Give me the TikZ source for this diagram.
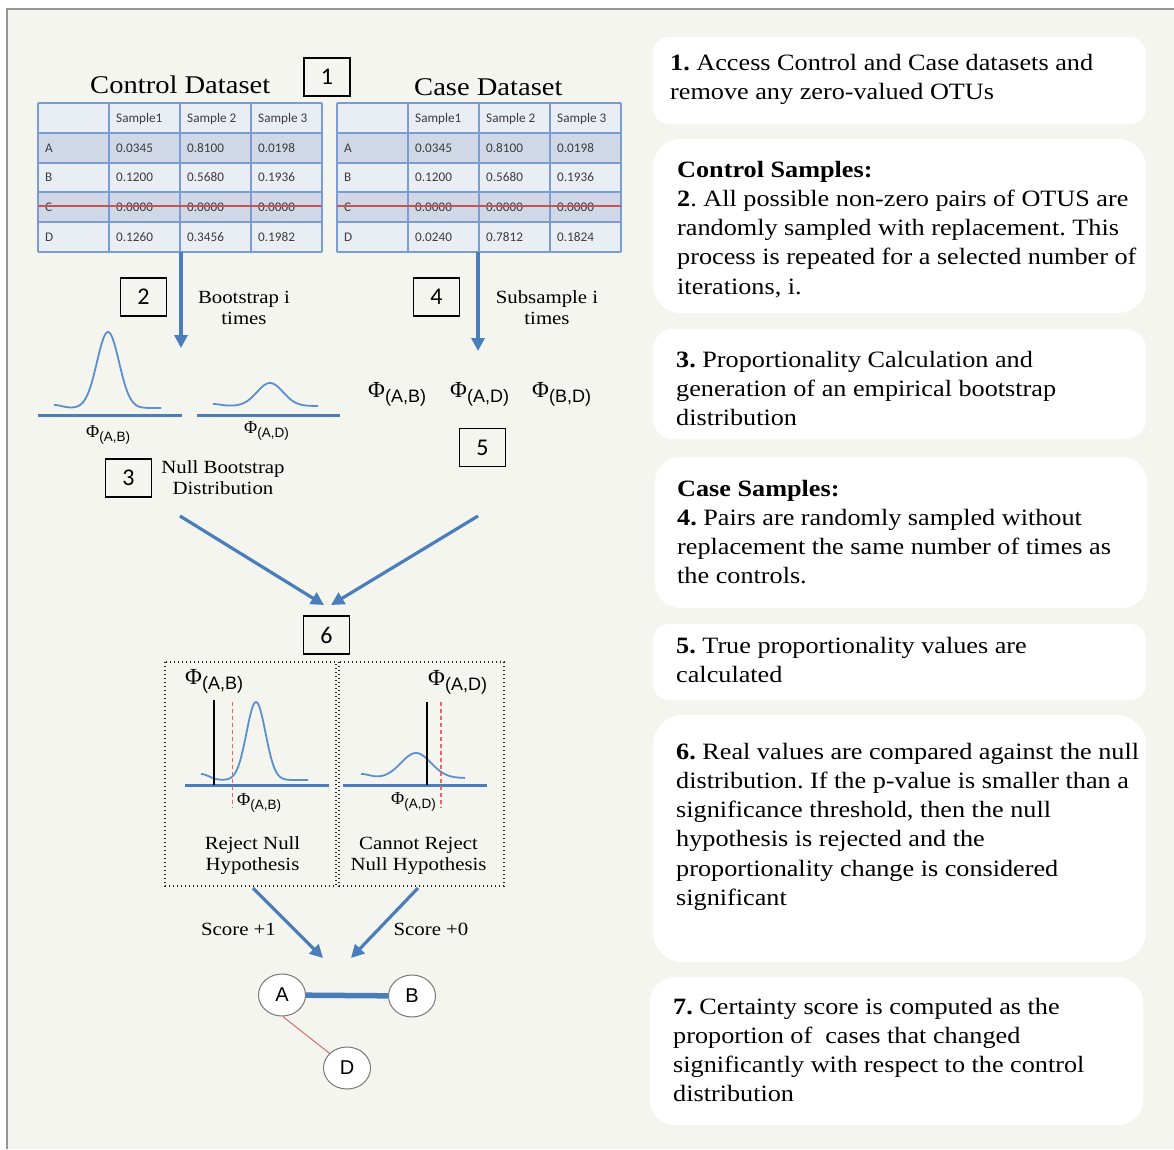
\documentclass[tikz,border=0pt]{standalone}
\usepackage{fontspec}
\setmainfont{Liberation Serif}[FakeStretch=1.12]
\newfontfamily\phifont{Liberation Serif}
\newfontfamily\subfont{Liberation Sans}
\newfontfamily\tabfont{Carlito}
\usetikzlibrary{arrows.meta,shapes.geometric}
\frenchspacing
\definecolor{bgc}{RGB}{245,245,239}
\definecolor{borderc}{RGB}{150,150,150}
\definecolor{blu}{RGB}{74,126,187}
\definecolor{curvec}{RGB}{91,143,208}
\definecolor{rowlight}{RGB}{233,237,244}
\definecolor{rowdark}{RGB}{208,216,232}
\definecolor{gridc}{RGB}{122,155,212}
\definecolor{strikec}{RGB}{205,80,80}
\definecolor{tabgray}{RGB}{60,60,60}
\definecolor{reddash}{RGB}{222,105,105}
\definecolor{ellc}{RGB}{120,120,120}
\definecolor{adred}{RGB}{212,110,110}
\newcommand\philabel[4]{{\phifont\fontsize{#1}{#1}\selectfont Φ}\raisebox{-#3pt}{\subfont\fontsize{#2}{#2}\selectfont(#4)}}
\newcommand\bigphi[1]{\philabel{23}{18}{5}{#1}}
\newcommand\smallphi[1]{\philabel{18}{13.5}{4}{#1}}
\newcommand\lblfont{\fontsize{18.6}{21.5}\selectfont}
\newcommand\boxfont{\fontsize{23.4}{29.3}\selectfont}
\newcommand\titlefont{\fontsize{25.5}{28}\selectfont}
\newcommand\tabrow[7]{%
  \node[tabtxt] (#2a) at (#1+7,#3) {#4};
  \node[tabtxt] (#2b) at (#1+78,#3) {#5};
  \node[tabtxt] (#2c) at (#1+149,#3) {#6};
  \node[tabtxt] (#2d) at (#1+220,#3) {#7};}
\newcommand\mytable[5]{%
  \fill[rowlight] (#1,103) rectangle ++(284,149);
  \fill[rowdark] (#1,133) rectangle ++(284,30);
  \fill[rowdark] (#1,192) rectangle ++(284,30);
  \foreach \k in {0,...,4} \draw[gridline] (#1+71*\k,103) -- ++(0,149);
  \foreach \yy in {103,133,163,192,222,252} \draw[gridline] (#1,\yy) -- ++(284,0);
  \tabrow{#1}{#2h}{118}{}{Sample1}{Sample 2}{Sample 3}
  \tabrow{#1}{#2A}{148}{A}{0.0345}{0.8100}{0.0198}
  \tabrow{#1}{#2B}{177.5}{B}{0.1200}{0.5680}{0.1936}
  \tabrow{#1}{#2C}{207}{C}{0.0000}{0.0000}{0.0000}
  \tabrow{#1}{#2D}{237}{D}{#3}{#4}{#5}
  \draw[strike] (#1,206) -- ++(284,0);}
\tikzset{
  tabtxt/.style={anchor=west,inner sep=0pt,font=\tabfont\fontsize{13.2}{14}\selectfont,text=tabgray,text height=8.5pt,text depth=0pt},
  gridline/.style={draw=gridc,line width=1.2pt},
  strike/.style={draw=strikec,line width=1.6pt},
  bluearrow/.style={draw=blu,line width=3.2pt,-{Triangle[length=13pt,width=13pt]}},
  numbox/.style={draw=black,line width=1.3pt,minimum width=46pt,minimum height=38pt,inner sep=0pt,font=\tabfont\fontsize{24}{24}\selectfont},
  curve/.style={draw=curvec,line width=1.8pt},
  baseln/.style={draw=blu,line width=3pt},
  lbl/.style={anchor=base,inner sep=0pt,font=\lblfont},
  philbl/.style={anchor=base west,inner sep=0pt},
  boxtxt/.style={anchor=base west,inner sep=0pt,font=\boxfont},
  whitebox/.style={fill=white},
  dotbox/.style={draw=black!85,line width=1.2pt,dash pattern=on 1.2pt off 2.8pt},
  reddashed/.style={draw=reddash,line width=1.3pt,dash pattern=on 4pt off 3pt},
  blackline/.style={draw=black,line width=2pt},
  gnode/.style={ellipse,draw=ellc,line width=1pt,fill=white,minimum width=47pt,minimum height=42pt,inner sep=0pt,font=\subfont\fontsize{20}{20}\selectfont},
}
\begin{document}
\begin{tikzpicture}[x=1pt,y=-1pt]
\useasboundingbox (0,0) rectangle (1174,1149);
\fill[white] (0,0) rectangle (1174,1149);
\fill[bgc] (6,8) rectangle (1174,1149);
\draw[borderc,line width=1.5pt] (6.75,1149) -- (6.75,8.75) -- (1174,8.75);

% titles
\node[anchor=base west,inner sep=0pt,font=\titlefont] (ctitle) at (90,93) {Control Dataset};
\node[anchor=base west,inner sep=0pt,font=\titlefont] (stitle) at (414,95) {Case Dataset};

% tables
\mytable{38}{ct}{0.1260}{0.3456}{0.1982}
\mytable{337}{cs}{0.0240}{0.7812}{0.1824}

% number boxes
\node[numbox] (n1) at (327,77) {1};
\node[numbox] (n2) at (143.5,297) {2};
\node[numbox] (n3) at (128.5,478) {3};
\node[numbox] (n4) at (436.5,297) {4};
\node[numbox] (n5) at (482.5,447.5) {5};
\node[numbox] (n6) at (326.5,635) {6};

% arrows from tables
\coordinate (a2s) at (181,252);
\coordinate (a2e) at (181,348);
\coordinate (a4s) at (478,252);
\coordinate (a4e) at (478,351);
\draw[bluearrow] (a2s) -- (a2e);
\draw[bluearrow] (a4s) -- (a4e);

\node[lbl] (boot) at (244,303) {\parbox[t]{150pt}{\centering Bootstrap i\\times}};
\node[lbl] (subs) at (547,303) {\parbox[t]{150pt}{\centering Subsample i\\times}};

% null bootstrap curves
\draw[baseln] (38,415) -- (182,415);
\draw[baseln] (197,415) -- (340,415);
\draw[curve] plot[domain=54:161,samples=90,smooth] (\x,{408-76*exp(-0.5*((\x-108)/11)^2)-3*exp(-0.5*((\x-54)/8)^2)});
\draw[curve] plot[domain=213:318,samples=90,smooth] (\x,{406-23*exp(-0.5*((\x-270)/13)^2)-2*exp(-0.5*((\x-213)/8)^2)});
\node[philbl] (p1) at (86,437) {\smallphi{A,B}};
\node[philbl] (p2) at (244,433) {\smallphi{A,D}};

\node[lbl] (nullb) at (223,473) {\parbox[t]{150pt}{\centering Null Bootstrap\\Distribution}};

% case phis
\node[philbl] (q1) at (368,397) {\bigphi{A,B}};
\node[philbl] (q2) at (450,397) {\bigphi{A,D}};
\node[philbl] (q3) at (532,397) {\bigphi{B,D}};

% converging arrows
\coordinate (c1s) at (180,516);
\coordinate (c1e) at (324,605);
\coordinate (c2s) at (478,516);
\coordinate (c2e) at (331,605);
\draw[bluearrow] (c1s) -- (c1e);
\draw[bluearrow] (c2s) -- (c2e);

% step 6 panels
\draw[dotbox] (165,662) rectangle (336,886);
\draw[dotbox] (339,662) rectangle (504,886);
\node[philbl] (r1) at (185,684) {\bigphi{A,B}};
\node[philbl] (r2) at (428,685) {\bigphi{A,D}};
\draw[baseln] (185,785) -- (329,785);
\draw[baseln] (343,785) -- (487,785);
\draw[curve] plot[domain=201:308,samples=100,smooth] (\x,{780-78*exp(-0.5*((\x-256)/9.5)^2)-6*exp(-0.5*((\x-201)/8)^2)});
\draw[curve] plot[domain=361:465,samples=100,smooth] (\x,{778-25*exp(-0.5*((\x-416)/15)^2)-4*exp(-0.5*((\x-361)/9)^2)});
\draw[blackline] (214,700) -- (214,785);
\draw[blackline] (427,702) -- (427,785);
\draw[reddashed] (232.5,702) -- (232.5,808);
\draw[reddashed] (441,702) -- (441,808);
\node[philbl] (s1) at (237,805) {\smallphi{A,B}};
\node[philbl] (s2) at (391,804) {\smallphi{A,D}};
\node[lbl] (rej) at (252.5,849) {\parbox[t]{150pt}{\centering Reject Null\\Hypothesis}};
\node[lbl] (crej) at (418.5,849) {\parbox[t]{160pt}{\centering Cannot Reject\\Null Hypothesis}};

% score arrows
\coordinate (d1s) at (253,888);
\coordinate (d1e) at (323,958);
\coordinate (d2s) at (418,888);
\coordinate (d2e) at (351,958);
\draw[bluearrow] (d1s) -- (d1e);
\draw[bluearrow] (d2s) -- (d2e);
\node[lbl] (sc1) at (238.5,935) {Score +1};
\node[lbl] (sc0) at (431,935) {Score +0};

% graph
\node[gnode] (A) at (282,995) {A};
\node[gnode] (B) at (412,996) {B};
\node[gnode] (D) at (347,1068) {D};
\draw[blu,line width=5.5pt] (A) -- (B);
\draw[adred,line width=1pt] (A.-88) -- (D.140);

% right text boxes
\fill[whitebox,rounded corners=16pt] (653,37) rectangle (1146,124);
\fill[whitebox,rounded corners=28pt] (653,139) rectangle (1146,313);
\fill[whitebox,rounded corners=20pt] (653,329) rectangle (1146,439);
\fill[whitebox,rounded corners=25pt] (655,457) rectangle (1147,608);
\fill[whitebox,rounded corners=16pt] (653,624) rectangle (1146,700);
\fill[whitebox,rounded corners=30pt] (653,715) rectangle (1146,962);
\fill[whitebox,rounded corners=25pt] (650,977) rectangle (1143,1125);

\node[boxtxt] (t1) at (670,70) {\parbox[t]{500pt}{\raggedright\textbf{1.} Access Control and Case datasets and\\remove any zero-valued OTUs}};
\node[boxtxt] (t2) at (677,177) {\parbox[t]{500pt}{\raggedright\textbf{Control Samples:}\\\textbf{2}. All possible non-zero pairs of OTUS are\\randomly sampled with replacement. This\\process is repeated for a selected number of\\iterations, i.}};
\node[boxtxt] (t3) at (676,367) {\parbox[t]{500pt}{\raggedright\textbf{3.} Proportionality Calculation and\\generation of an empirical bootstrap\\distribution}};
\node[boxtxt] (t4) at (677,496) {\parbox[t]{500pt}{\raggedright\textbf{Case Samples:}\\\textbf{4.} Pairs are randomly sampled without\\replacement the same number of times as\\the controls.}};
\node[boxtxt] (t5) at (676,653) {\parbox[t]{500pt}{\raggedright\textbf{5.} True proportionality values are\\calculated}};
\node[boxtxt] (t6) at (676,759) {\parbox[t]{500pt}{\raggedright\textbf{6.} Real values are compared against the null\\distribution. If the p-value is smaller than a\\significance threshold, then the null\\hypothesis is rejected and the\\proportionality change is considered\\significant}};
\node[boxtxt] (t7) at (673,1014) {\parbox[t]{500pt}{\raggedright\textbf{7.} Certainty score is computed as the\\proportion of\ \ cases that changed\\significantly with respect to the control\\distribution}};
\end{tikzpicture}
\end{document}
